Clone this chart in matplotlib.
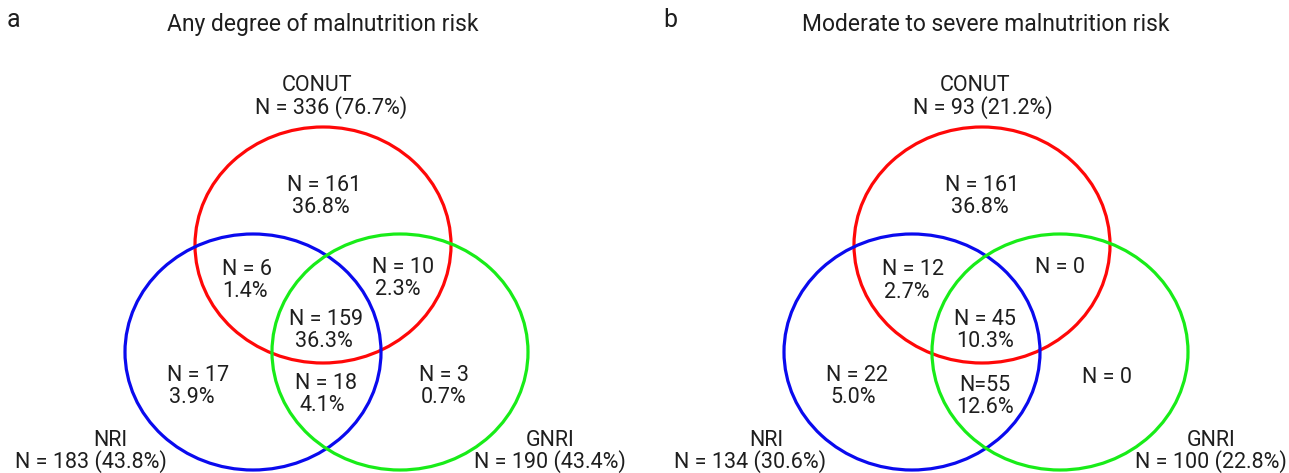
import matplotlib
matplotlib.use("Agg")
import matplotlib.pyplot as plt
from matplotlib.patches import Ellipse

plt.rcParams['font.family'] = ['Roboto', 'DejaVu Sans']

# -----------------------------------------------------------
# data
# -----------------------------------------------------------
panel_letters = ["a", "b"]
panel_titles = ["Any degree of malnutrition risk",
                "Moderate to severe malnutrition risk"]
set_names = ["CONUT", "NRI", "GNRI"]

# totals per set (N, %)
totals_a = [336, 183, 190]
totals_pct_a = [76.7, 43.8, 43.4]
totals_b = [93, 134, 100]
totals_pct_b = [21.2, 30.6, 22.8]

# regions: CONUT only, CONUT&NRI, CONUT&GNRI, all three, NRI only, NRI&GNRI, GNRI only
counts_a = [161, 6, 10, 159, 17, 18, 3]
pct_a = [36.8, 1.4, 2.3, 36.3, 3.9, 4.1, 0.7]
counts_b = [161, 12, 0, 45, 22, 55, 0]
pct_b = [36.8, 2.7, None, 10.3, 5.0, 12.6, None]
compact_b = [False, False, False, False, False, True, False]  # "N=55" in the original

# -----------------------------------------------------------
# layout (pixel coordinates, y downwards)
# -----------------------------------------------------------
W, H = 1289, 473
colors = ["#ff0808", "#0a0aee", "#18ec18"]
ell_w, ell_h = 256, 236
centers = [[(323, 245), (253, 352), (400, 352)],
           [(982, 245), (912, 352), (1060, 352)]]
letter_pos = [(13, 20), (670, 20)]
title_pos = [(323, 23), (986, 23)]
name_pos = [[(317, 83), (110, 438), (550, 438)],
            [(975, 83), (766, 438), (1211, 438)]]
total_pos = [[(331, 106), (91, 460), (550, 460)],
             [(983, 106), (750, 460), (1211, 460)]]
region_pos = [
    [((324, 183), (321, 205)), ((247, 267), (245, 289)), ((403, 265), (398, 287)),
     ((326, 317), (324, 339)), ((198, 373), (192, 395)), ((326, 381), (322, 403)),
     ((444, 373), (444, 395))],
    [((982, 183), (980, 205)), ((913, 267), (907, 290)), ((1060, 265), None),
     ((985, 317), (985, 339)), ((857, 373), (853, 395)), ((985, 383), (985, 405)),
     ((1107, 375), None)],
]

FS = 15.5
TXT = "#1e1e1e"

fig = plt.figure(figsize=(W / 100, H / 100), dpi=100)
ax = fig.add_axes([0, 0, 1, 1])
ax.set_xlim(0, W)
ax.set_ylim(H, 0)
ax.axis("off")


def label(x, y, s, size=FS):
    # y is the visual middle of the capitals
    ax.text(x, y + 0.355 * size * 100 / 72, s, ha="center", va="baseline",
            fontsize=size, color=TXT)


panels = [(totals_a, totals_pct_a, counts_a, pct_a, [False] * 7),
          (totals_b, totals_pct_b, counts_b, pct_b, compact_b)]

for p, (tot, tot_pct, cnt, pct, compact) in enumerate(panels):
    ax.text(letter_pos[p][0], letter_pos[p][1], panel_letters[p], ha="center",
            va="center", fontsize=18, color=TXT)
    label(title_pos[p][0], title_pos[p][1], panel_titles[p], size=16.5)

    for i in range(3):
        ax.add_patch(Ellipse(centers[p][i], ell_w, ell_h, fill=False,
                             edgecolor=colors[i], lw=2.3))
        label(*name_pos[p][i], set_names[i])
        label(*total_pos[p][i], f"N = {tot[i]} ({tot_pct[i]:.1f}%)")

    for r in range(7):
        top, bottom = region_pos[p][r]
        sep = "=" if compact[r] else " = "
        label(*top, f"N{sep}{cnt[r]}")
        if pct[r] is not None and bottom is not None:
            label(*bottom, f"{pct[r]:.1f}%")

fig.savefig("out.png", dpi=100)
